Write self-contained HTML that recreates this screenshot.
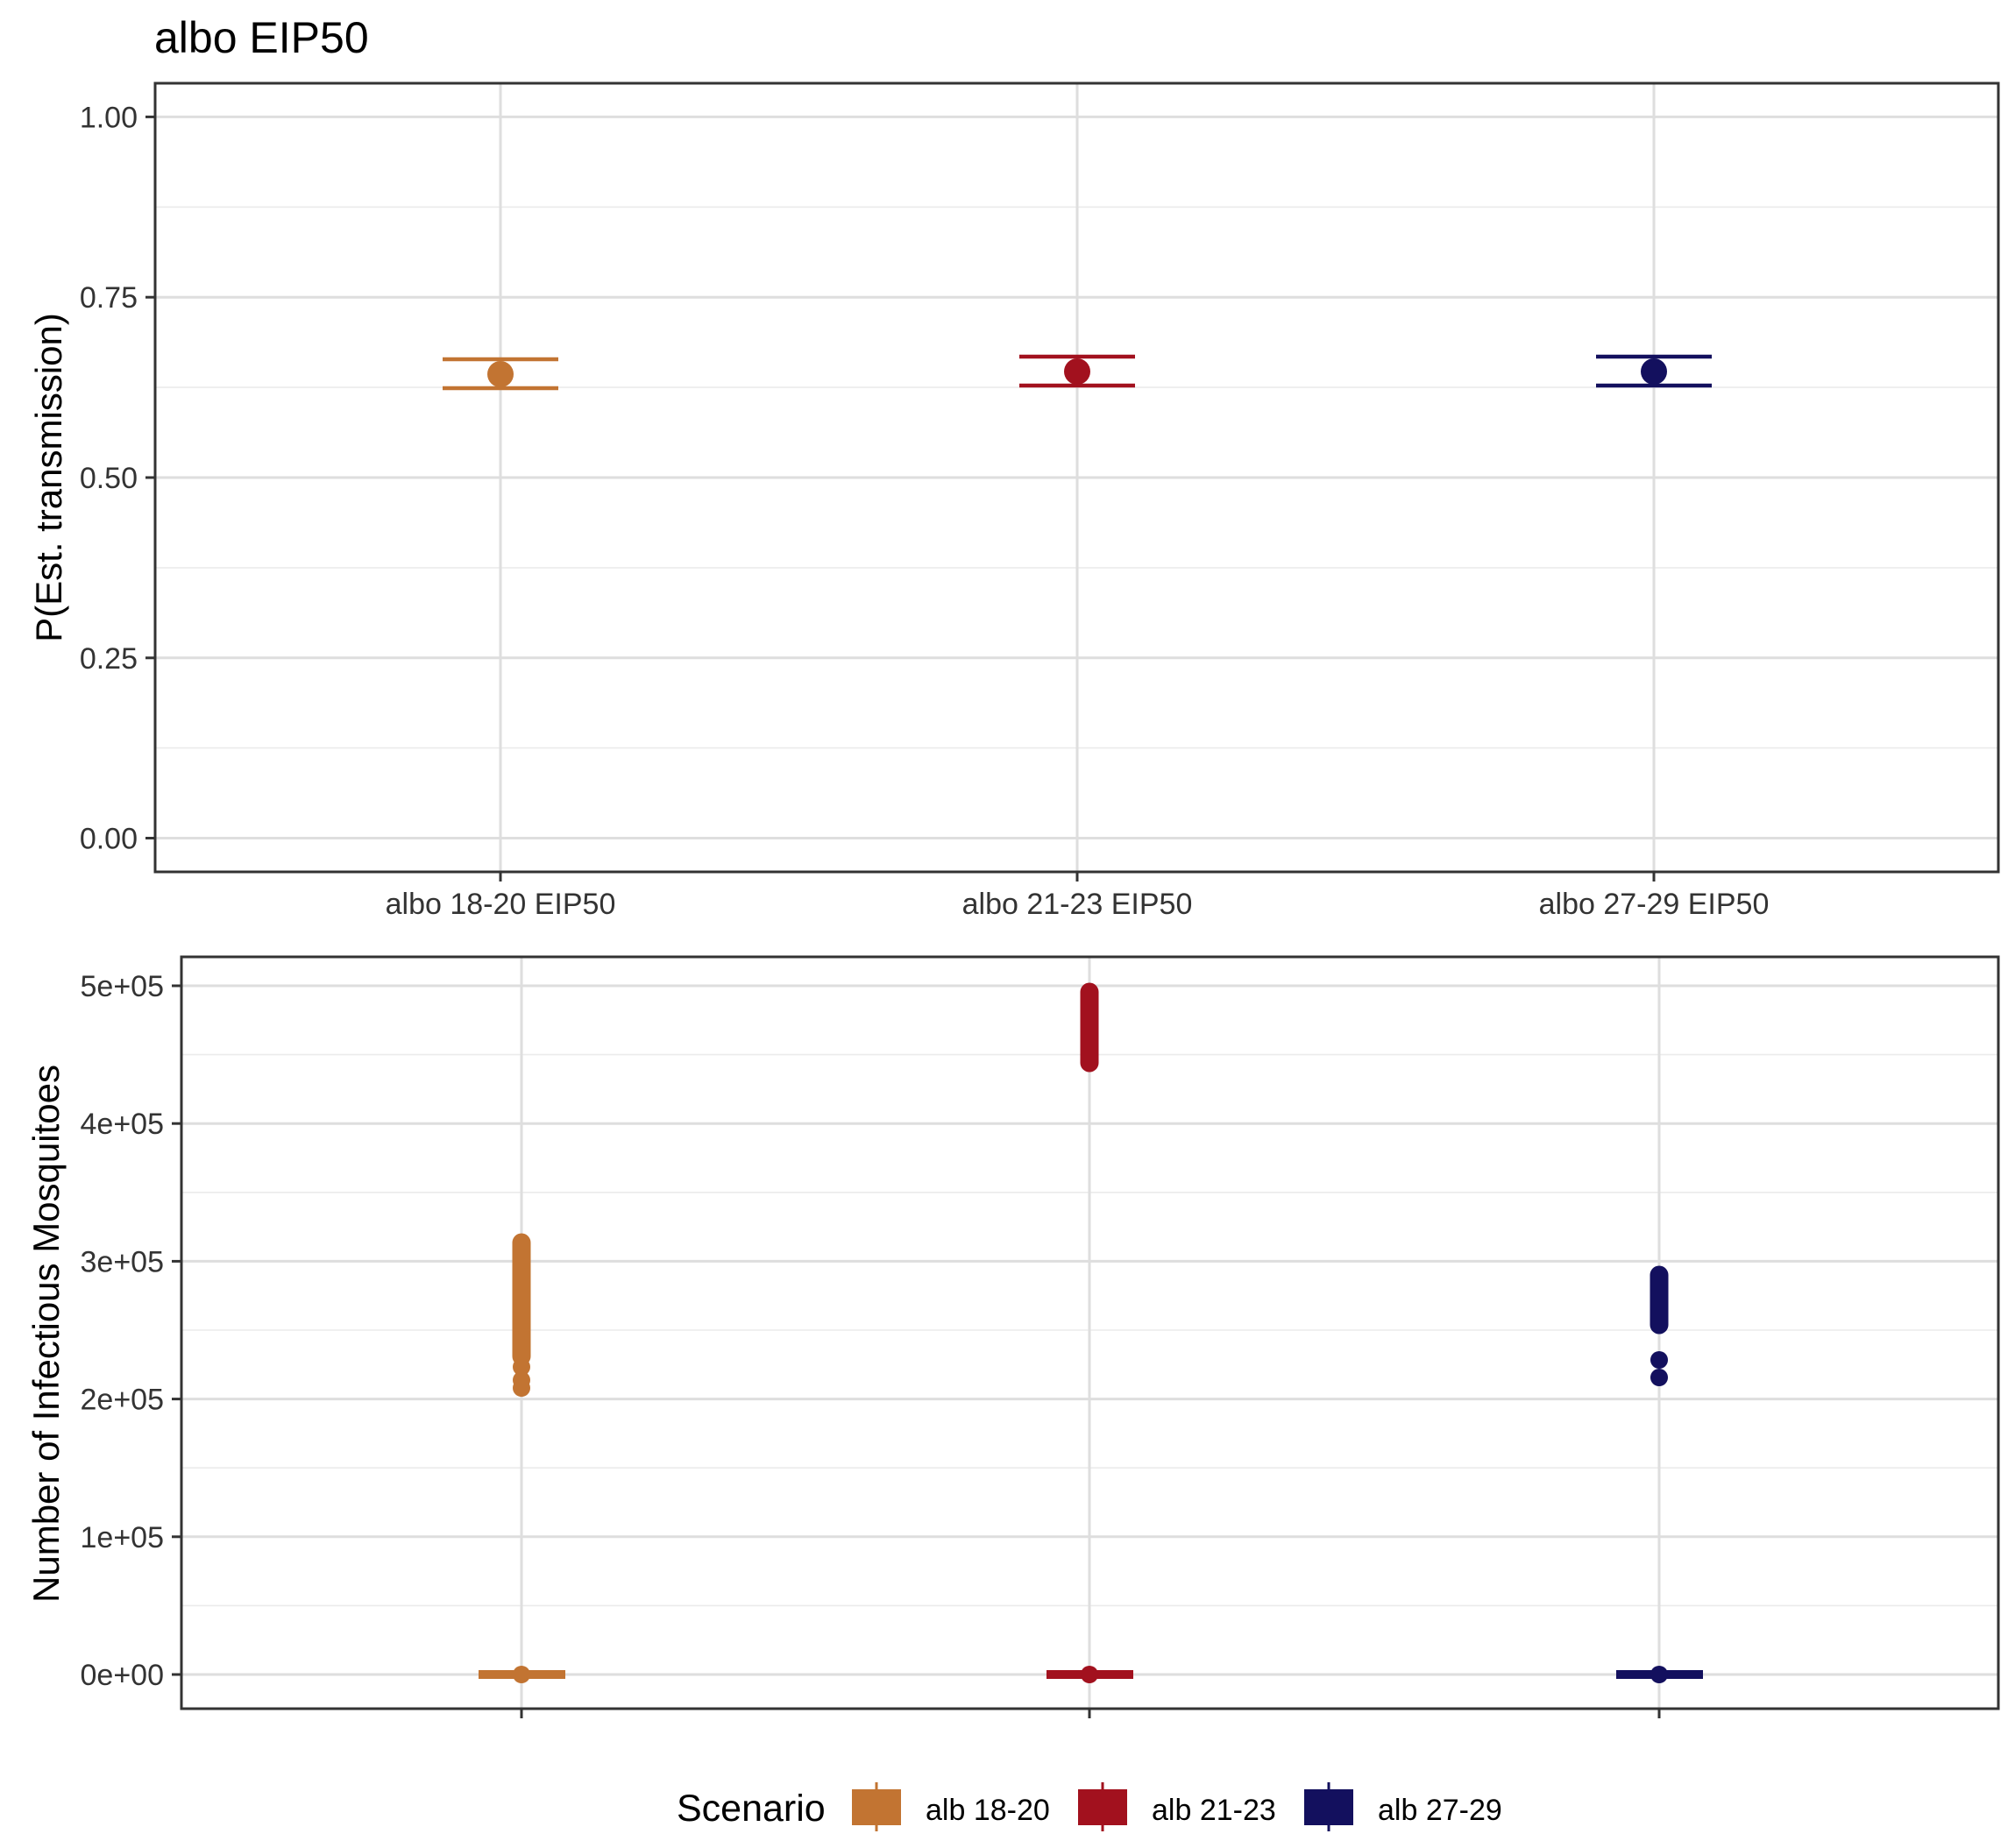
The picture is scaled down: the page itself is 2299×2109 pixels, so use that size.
<!DOCTYPE html>
<html><head><meta charset="utf-8"><style>
html,body{margin:0;padding:0;background:#fff;}
svg{display:block;font-family:"Liberation Sans",Arial,sans-serif;}
</style></head><body>
<svg width="2299" height="2109" viewBox="0 0 2299 2109" xmlns="http://www.w3.org/2000/svg">
<rect width="2299" height="2109" fill="#fff"/>
<text x="176" y="60" font-size="50" fill="#000">albo EIP50</text>

<!-- TOP PANEL -->
<g>
  <!-- minor grid -->
  <g stroke="#ebebeb" stroke-width="1.6">
    <line x1="177" x2="2280" y1="236.3" y2="236.3"/>
    <line x1="177" x2="2280" y1="442.1" y2="442.1"/>
    <line x1="177" x2="2280" y1="647.9" y2="647.9"/>
    <line x1="177" x2="2280" y1="853.6" y2="853.6"/>
  </g>
  <g stroke="#dedede" stroke-width="3">
    <line x1="177" x2="2280" y1="133.4" y2="133.4"/>
    <line x1="177" x2="2280" y1="339.2" y2="339.2"/>
    <line x1="177" x2="2280" y1="545" y2="545"/>
    <line x1="177" x2="2280" y1="750.8" y2="750.8"/>
    <line x1="177" x2="2280" y1="956.5" y2="956.5"/>
    <line x1="571" x2="571" y1="95" y2="995"/>
    <line x1="1229" x2="1229" y1="95" y2="995"/>
    <line x1="1887" x2="1887" y1="95" y2="995"/>
  </g>
  <!-- data -->
  <g stroke-width="4.5" fill="none">
    <g stroke="#C27432"><line x1="505" x2="637" y1="410" y2="410"/><line x1="505" x2="637" y1="443" y2="443"/></g>
    <g stroke="#A2111E"><line x1="1163" x2="1295" y1="407" y2="407"/><line x1="1163" x2="1295" y1="440" y2="440"/></g>
    <g stroke="#13105E"><line x1="1821" x2="1953" y1="407" y2="407"/><line x1="1821" x2="1953" y1="440" y2="440"/></g>
  </g>
  <circle cx="571" cy="427" r="15" fill="#C27432"/>
  <circle cx="1229" cy="424" r="15" fill="#A2111E"/>
  <circle cx="1887" cy="424" r="15" fill="#13105E"/>
  <rect x="177" y="95" width="2103" height="900" fill="none" stroke="#333" stroke-width="3"/>
  <!-- ticks -->
  <g stroke="#333" stroke-width="3">
    <line x1="166" x2="177" y1="133.4" y2="133.4"/>
    <line x1="166" x2="177" y1="339.2" y2="339.2"/>
    <line x1="166" x2="177" y1="545" y2="545"/>
    <line x1="166" x2="177" y1="750.8" y2="750.8"/>
    <line x1="166" x2="177" y1="956.5" y2="956.5"/>
    <line x1="571" x2="571" y1="995" y2="1006"/>
    <line x1="1229" x2="1229" y1="995" y2="1006"/>
    <line x1="1887" x2="1887" y1="995" y2="1006"/>
  </g>
  <g font-size="34" fill="#333" text-anchor="end">
    <text x="157" y="145.5">1.00</text>
    <text x="157" y="351.2">0.75</text>
    <text x="157" y="557">0.50</text>
    <text x="157" y="762.8">0.25</text>
    <text x="157" y="968.5">0.00</text>
  </g>
  <g font-size="34" fill="#333" text-anchor="middle">
    <text x="571" y="1043">albo 18-20 EIP50</text>
    <text x="1229" y="1043">albo 21-23 EIP50</text>
    <text x="1887" y="1043">albo 27-29 EIP50</text>
  </g>
  <text transform="translate(70,545) rotate(-90)" font-size="42" text-anchor="middle" fill="#000">P(Est. transmission)</text>
</g>

<!-- BOTTOM PANEL -->
<g>
  <g stroke="#ebebeb" stroke-width="1.6">
    <line x1="207" x2="2280" y1="1203.6" y2="1203.6"/>
    <line x1="207" x2="2280" y1="1360.8" y2="1360.8"/>
    <line x1="207" x2="2280" y1="1518" y2="1518"/>
    <line x1="207" x2="2280" y1="1675.2" y2="1675.2"/>
    <line x1="207" x2="2280" y1="1832.4" y2="1832.4"/>
  </g>
  <g stroke="#dedede" stroke-width="3">
    <line x1="207" x2="2280" y1="1125" y2="1125"/>
    <line x1="207" x2="2280" y1="1282.2" y2="1282.2"/>
    <line x1="207" x2="2280" y1="1439.4" y2="1439.4"/>
    <line x1="207" x2="2280" y1="1596.6" y2="1596.6"/>
    <line x1="207" x2="2280" y1="1753.8" y2="1753.8"/>
    <line x1="207" x2="2280" y1="1911" y2="1911"/>
    <line x1="595" x2="595" y1="1092" y2="1950"/>
    <line x1="1243" x2="1243" y1="1092" y2="1950"/>
    <line x1="1893" x2="1893" y1="1092" y2="1950"/>
  </g>
  <!-- orange -->
  <g fill="#C27432">
    <line x1="595" x2="595" y1="1418" y2="1548" stroke="#C27432" stroke-width="21" stroke-linecap="round"/>
    <circle cx="595" cy="1528" r="10"/><circle cx="595" cy="1545" r="10"/>
    <circle cx="595" cy="1560" r="10"/><circle cx="595" cy="1575" r="10"/><circle cx="595" cy="1584" r="10"/>
    <rect x="546" y="1906" width="99" height="10"/>
    <circle cx="595" cy="1911" r="10"/>
  </g>
  <!-- red -->
  <g fill="#A2111E">
    <line x1="1243" x2="1243" y1="1132" y2="1213" stroke="#A2111E" stroke-width="21" stroke-linecap="round"/>
    <rect x="1194" y="1906" width="99" height="10"/>
    <circle cx="1243" cy="1911" r="10"/>
  </g>
  <!-- navy -->
  <g fill="#13105E">
    <line x1="1893" x2="1893" y1="1455" y2="1512" stroke="#13105E" stroke-width="21" stroke-linecap="round"/>
    <circle cx="1893" cy="1552" r="10"/><circle cx="1893" cy="1572" r="10"/>
    <rect x="1844" y="1906" width="99" height="10"/>
    <circle cx="1893" cy="1911" r="10"/>
  </g>
  <rect x="207" y="1092" width="2073" height="858" fill="none" stroke="#333" stroke-width="3"/>
  <g stroke="#333" stroke-width="3">
    <line x1="196" x2="207" y1="1125" y2="1125"/>
    <line x1="196" x2="207" y1="1282.2" y2="1282.2"/>
    <line x1="196" x2="207" y1="1439.4" y2="1439.4"/>
    <line x1="196" x2="207" y1="1596.6" y2="1596.6"/>
    <line x1="196" x2="207" y1="1753.8" y2="1753.8"/>
    <line x1="196" x2="207" y1="1911" y2="1911"/>
    <line x1="595" x2="595" y1="1950" y2="1961"/>
    <line x1="1243" x2="1243" y1="1950" y2="1961"/>
    <line x1="1893" x2="1893" y1="1950" y2="1961"/>
  </g>
  <g font-size="34" fill="#333" text-anchor="end">
    <text x="187" y="1137">5e+05</text>
    <text x="187" y="1294.2">4e+05</text>
    <text x="187" y="1451.4">3e+05</text>
    <text x="187" y="1608.6">2e+05</text>
    <text x="187" y="1765.8">1e+05</text>
    <text x="187" y="1923">0e+00</text>
  </g>
  <text transform="translate(67,1522) rotate(-90)" font-size="42" text-anchor="middle" fill="#000">Number of Infectious Mosquitoes</text>
</g>

<!-- LEGEND -->
<g>
  <text x="772" y="2078" font-size="43" fill="#000">Scenario</text>
  <rect x="972" y="2042" width="56" height="41" fill="#C27432"/>
  <line x1="1000" x2="1000" y1="2034" y2="2090" stroke="#C27432" stroke-width="3"/>
  <text x="1056" y="2077" font-size="34" fill="#000">alb 18-20</text>
  <rect x="1230" y="2042" width="56" height="41" fill="#A2111E"/>
  <line x1="1258" x2="1258" y1="2034" y2="2090" stroke="#A2111E" stroke-width="3"/>
  <text x="1314" y="2077" font-size="34" fill="#000">alb 21-23</text>
  <rect x="1488" y="2042" width="56" height="41" fill="#13105E"/>
  <line x1="1516" x2="1516" y1="2034" y2="2090" stroke="#13105E" stroke-width="3"/>
  <text x="1572" y="2077" font-size="34" fill="#000">alb 27-29</text>
</g>
</svg>
</body></html>
